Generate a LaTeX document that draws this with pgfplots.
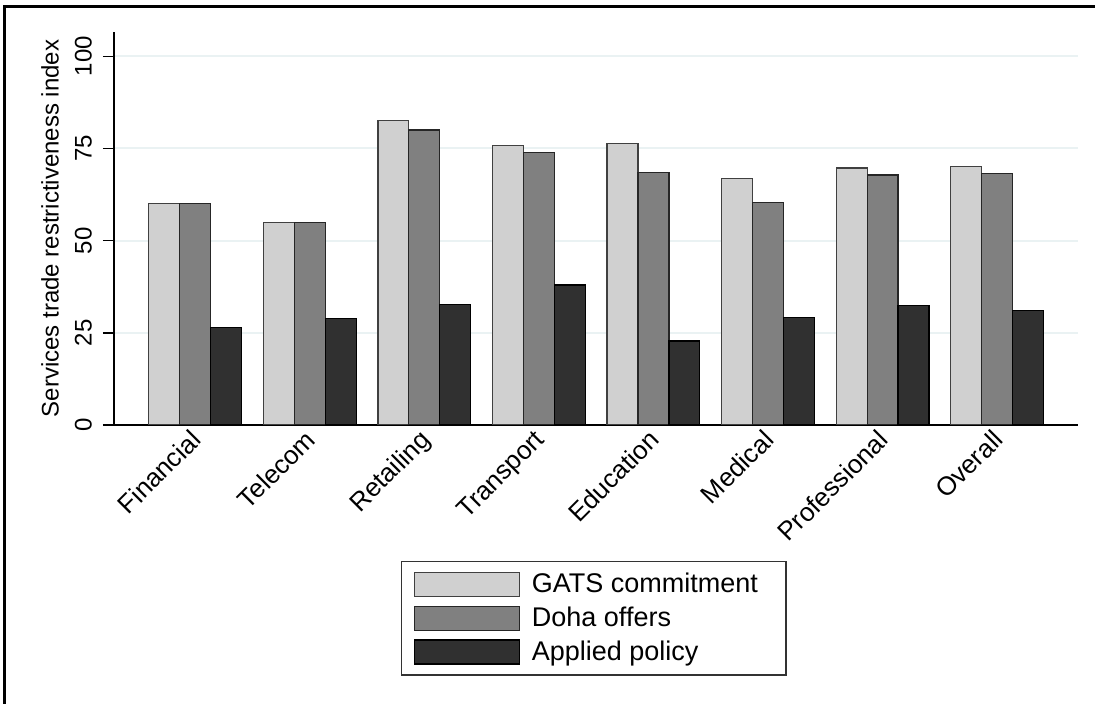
\documentclass[border=0pt]{standalone}
\usepackage{pgfplots}
\pgfplotsset{compat=1.18}
\usepackage{pgfplotstable}
\usepackage{fontspec}
\setmainfont{Liberation Sans}
\definecolor{gats}{HTML}{D0D0D0}
\definecolor{doha}{HTML}{808080}
\definecolor{applied}{HTML}{303030}
\definecolor{gridc}{HTML}{EAF2F3}

\pgfplotstableread{
x gats doha applied
0 60.0 60.0 26.5
1 55.0 55.0 28.8
2 82.5 80.0 32.6
3 75.9 73.9 38.0
4 76.4 68.5 22.8
5 66.8 60.3 29.2
6 69.7 67.8 32.5
7 70.2 68.2 31.1
}\datatable

\begin{document}
\begin{tikzpicture}
\useasboundingbox (-57pt,-139.5pt) rectangle (490.5pt,212.5pt);
\draw[line width=1.5pt] (-54.5pt,-140pt) -- (-54.5pt,209pt) -- (491pt,209pt);
\begin{axis}[
  at={(0,0)}, anchor=south west,
  width=482pt, height=196.5pt, scale only axis,
  xmin=-0.709, xmax=7.706, ymin=0, ymax=106.6,
  axis x line*=bottom, axis y line*=left,
  axis line style={line width=1pt},
  xtick={0,1,2,3,4,5,6,7},
  xticklabels={Financial,Telecom,Retailing,Transport,Education,Medical,Professional,Overall},
  x tick label style={xshift=-3pt, yshift=5.5pt, rotate=45, anchor=north east, font=\fontsize{13}{15}\selectfont, inner sep=1pt},
  x tick style={draw=none},
  ytick={0,25,50,75,100},
  y tick label style={xshift=-2pt, rotate=90, anchor=south, font=\fontsize{12}{14}\selectfont},
  y tick style={line width=0.8pt, black},
  tick align=outside, major tick length=5.5pt,
  ymajorgrids, grid style={gridc, line width=1pt},
  ylabel={Services trade restrictiveness index},
  ylabel style={font=\fontsize{12}{14}\selectfont, at={(axis description cs:-0.0664,0.5)}, anchor=center},
  /pgf/number format/assume math mode=true,
  legend style={at={(0.2977,-0.346)}, anchor=north west, draw=black!80, line width=0.75pt,
    inner xsep=6pt, inner ysep=3pt, font=\fontsize{13.5}{16}\selectfont,
    row sep=0pt, /tikz/every odd column/.append style={column sep=4pt}},
  legend cell align=left,
]
\addplot[ybar, bar width=0.27, bar shift=-0.27, fill=gats, draw=black!75, line width=0.6pt,
  legend image code/.code={\path[draw=none, fill=none] (0pt,-8.425pt) rectangle (52.5pt,8.425pt);
    \draw[fill=gats, draw=black!75, line width=0.6pt] (0pt,-6pt) rectangle (52.5pt,6pt);}]
  table[x=x, y=gats] {\datatable};
\addlegendentry{\makebox[119pt][l]{GATS commitment}}
\addplot[ybar, bar width=0.27, bar shift=0, fill=doha, draw=black!85, line width=0.6pt,
  legend image code/.code={\path[draw=none, fill=none] (0pt,-8.425pt) rectangle (52.5pt,8.425pt);
    \draw[fill=doha, draw=black!85, line width=0.6pt] (0pt,-6pt) rectangle (52.5pt,6pt);}]
  table[x=x, y=doha] {\datatable};
\addlegendentry{\makebox[119pt][l]{Doha offers}}
\addplot[ybar, bar width=0.27, bar shift=0.27, fill=applied, draw=black, line width=0.6pt,
  legend image code/.code={\path[draw=none, fill=none] (0pt,-8.425pt) rectangle (52.5pt,8.425pt);
    \draw[fill=applied, draw=black, line width=0.6pt] (0pt,-6pt) rectangle (52.5pt,6pt);}]
  table[x=x, y=applied] {\datatable};
\addlegendentry{\makebox[119pt][l]{Applied policy}}
\end{axis}
\end{tikzpicture}
\end{document}
